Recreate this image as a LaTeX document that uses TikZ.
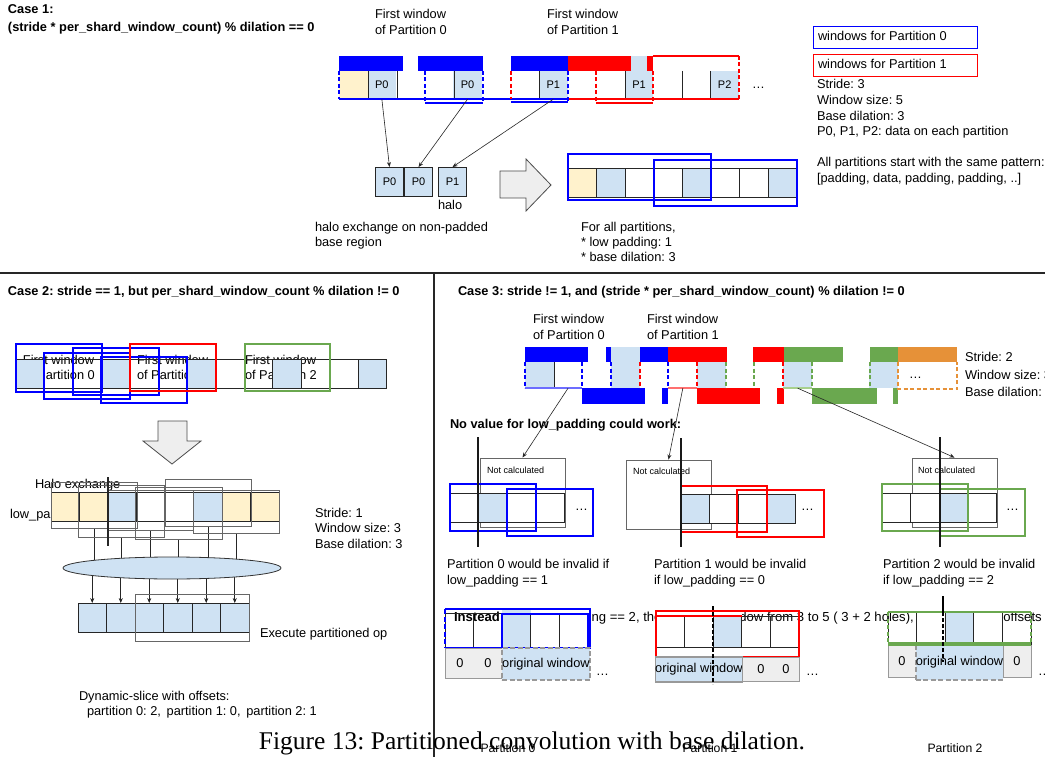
\documentclass[tikz,border=0pt]{standalone}
\usepackage{fontspec}
\setmainfont{Liberation Sans}
\newfontfamily\capfont{Liberation Serif}
\usetikzlibrary{arrows.meta,shapes.geometric}
\definecolor{pblue}{HTML}{0000FF}
\definecolor{lblue}{HTML}{6D6DFF}
\definecolor{pred}{HTML}{FF0000}
\definecolor{lred}{HTML}{FF7070}
\definecolor{pgreen}{HTML}{6AA84F}
\definecolor{lgreen}{HTML}{A8D08D}
\definecolor{porange}{HTML}{E69138}
\definecolor{lb}{HTML}{CFE2F3}
\definecolor{yel}{HTML}{FFF2CC}
\definecolor{lgray}{HTML}{EEEEEE}
\definecolor{mgray}{HTML}{999999}
\newcommand\myfs{\fontsize{12.8}{15}\selectfont}
\newcommand\mysm{\fontsize{9}{11}\selectfont}
\pgfdeclarelayer{bgfill}
\pgfdeclarelayer{back}
\pgfsetlayers{bgfill,back,main}
\frenchspacing
\begin{document}
\begin{tikzpicture}[x=1pt,y=-1pt,
  tx/.style={inner sep=0pt, outer sep=0pt, anchor=west, font=\myfs, text height=9.2pt, text depth=2.6pt},
  bx/.style={tx, font=\myfs\bfseries},
  sm/.style={inner sep=0pt, outer sep=0pt, anchor=west, font=\mysm, text height=6.5pt, text depth=1.8pt},
  ctx/.style={inner sep=0pt, outer sep=0pt, font=\myfs},
  cb/.style={draw=black!85, line width=0.9pt, minimum width=28.57pt, minimum height=29pt, inner sep=0pt, font=\fontsize{11}{13}\selectfont},
  cf/.style={draw=none, minimum width=28.57pt, minimum height=28pt, inner sep=0pt, font=\fontsize{11}{13}\selectfont},
  vd/.style={draw=black!85, line width=0.9pt},
  arr/.style={-{Stealth[length=5pt,width=4pt]}, line width=0.6pt, black!85},
  garrow/.style={draw=black!70, fill=lgray, line width=0.8pt},
  win/.style={line width=1.1pt},
  gwin/.style={draw=black!60, line width=0.9pt, inner sep=0pt},
  bdash/.style={line width=1.3pt, dash pattern=on 4pt off 2.5pt},
  gcell/.style={draw=mgray, fill=lgray, line width=0.9pt, inner sep=0pt, font=\myfs},
  owin/.style={fill=lb, draw=mgray, line width=1.5pt, dash pattern=on 5pt off 2.5pt, inner sep=0pt, font=\myfs},
]
\useasboundingbox (0,0) rectangle (1045,757);
\begin{pgfonlayer}{bgfill}
\fill[white] (0,0) rectangle (1045,757);
\end{pgfonlayer}

%% ================= CASE 1 =================
\node[bx] (c1a) at (8,10) {Case 1:};
\node[bx] (c1b) at (8,28) {(stride * per\_shard\_window\_count) \% dilation == 0};
\node[tx] (fw0a) at (375,15) {First window};
\node[tx] (fw0b) at (375,31) {of Partition 0};
\node[tx] (fw1a) at (547,15) {First window};
\node[tx] (fw1b) at (547,31) {of Partition 1};

\foreach \i/\f/\t in {0/yel/{},1/lb/P0,2/white/{},3/white/{},4/lb/P0,5/white/{},6/white/{},7/lb/P1,8/white/{},9/white/{},10/lb/P1,11/white/{},12/white/{},13/lb/P2}
  \node[cf,fill=\f] (a\i) at ({339+28.57*(\i+0.5)},85) {\t};
\foreach \x in {368,397,454,539,625,682,710} \draw[vd] (\x,71) -- (\x,99);
\fill[pblue] (339,56) rectangle (403,71);
\fill[pblue] (418,56) rectangle (483,71);
\fill[pblue] (511,56) rectangle (568,71);
\fill[pred] (568,56) rectangle (631,71);
\fill[lb] (631,56) rectangle (647,71);
\fill[pred] (647,56) rectangle (653,71);
\draw[pred, line width=1.1pt] (653,56) -- (739,56);
\draw[pblue, line width=1.6pt] (339,99) -- (568,99);
\draw[pred, line width=1.6pt] (568,99) -- (739,99);
\draw[pblue, line width=1.6pt] (425,103) -- (483,103);
\draw[pblue, line width=1.6pt] (511,102) -- (568,102);
\draw[pred, line width=1.6pt] (596,103) -- (653,103);
\foreach \x/\a/\b in {339/71/99,425/71/103,483/71/103,568/71/103}
  \draw[pblue, bdash] (\x,\a) -- (\x,\b);
\foreach \x/\a/\b in {511/71/99,596/71/103,653/71/103,739/56/99}
  \draw[pred, bdash] (\x,\a) -- (\x,\b);
\node[tx] (adots) at (752,85) {…};

% halo boxes
\node[cb,fill=lb] (h0) at (389.5,182) {P0};
\node[cb,fill=lb] (h1) at (418.5,182) {P0};
\node[cb,fill=lb] (h2) at (452.5,182) {P1};
\node[tx] (halo) at (438,206) {halo};
\draw[arr] (a1.south) -- (h0.north);
\draw[arr] (a4.south) -- (h1.north);
\draw[arr] (a7.south) -- (h2.north);

% big right arrow
\draw[garrow] (500,171) -- (526,171) -- (526,159) -- (551,185) -- (526,211) -- (526,198) -- (500,198) -- cycle;

% result row
\foreach \i/\f in {0/yel,1/lb,2/white,3/white,4/lb,5/white,6/white,7/lb}
  \node[cb,fill=\f] (r\i) at ({568+28.57*(\i+0.5)},182.5) {};
\draw[pblue, win] (568,154) rectangle (711,200);
\draw[pblue, win] (654,160) rectangle (797,206);

\node[tx] (hx1) at (315,228) {halo exchange on non-padded};
\node[tx] (hx2) at (315,243) {base region};
\node[tx] (fa1) at (581,228) {For all partitions,};
\node[tx] (fa2) at (581,243) {* low padding: 1};
\node[tx] (fa3) at (581,258) {* base dilation: 3};

% legend
\node[draw=pblue, line width=1.1pt, minimum width=164pt, minimum height=22pt, inner sep=0pt, anchor=north west] (leg0) at (813,26) {};
\node[tx] (leg0t) at (818,37) {windows for Partition 0};
\node[draw=pred, line width=1.1pt, minimum width=164pt, minimum height=22pt, inner sep=0pt, anchor=north west] (leg1) at (813,54) {};
\node[tx] (leg1t) at (818,65) {windows for Partition 1};
\node[tx] (l1) at (817,85) {Stride: 3};
\node[tx] (l2) at (817,101) {Window size: 5};
\node[tx] (l3) at (817,117) {Base dilation: 3};
\node[tx] (l4) at (817,132) {P0, P1, P2: data on each partition};
\node[tx] (l5) at (817,163) {All partitions start with the same pattern:};
\node[tx] (l6) at (817,179) {[padding, data, padding, padding, ..]};

%% dividers
\draw[line width=1.5pt, black!85] (0,273) -- (1045,273);
\draw[line width=1.5pt, black!85] (434,273) -- (434,757);

%% ================= CASE 2 =================
\node[bx] (c2) at (8,292) {Case 2: stride == 1, but per\_shard\_window\_count \% dilation != 0};
\node[tx] (c2f0a) at (23,361) {First window};
\node[tx] (c2f0b) at (23,376) {of Partition 0};
\node[tx] (c2f1a) at (137,361) {First window};
\node[tx] (c2f1b) at (137,376) {of Partition 1};
\node[tx] (c2f2a) at (245,361) {First window};
\node[tx] (c2f2b) at (245,376) {of Partition 2};
\foreach \i/\f in {0/lb,1/none,2/none,3/lb,4/none,5/none,6/lb,7/none,8/none,9/lb,10/none,11/none,12/lb}
  \node[cb,fill=\f] (k\i) at ({16+28.5*(\i+0.5)},373.5) {};
\draw[pblue, win] (16,344) rectangle (102,392);
\draw[pblue, win] (44,353) rectangle (130,399);
\draw[pblue, win] (73,348) rectangle (159,395);
\draw[pblue, win] (101,357) rectangle (187,403);
\draw[pred, win] (130,344) rectangle (216,391);
\draw[pgreen, win] (245,344) rectangle (330,391);

% down arrow
\draw[garrow] (158,421) -- (187,421) -- (187,441) -- (201,441) -- (172,464) -- (143,441) -- (158,441) -- cycle;

\node[tx] (halox) at (35,485) {Halo exchange};
\node[tx] (lowpa) at (10,515) {low\_padding};
\foreach \i/\f in {0/yel,1/yel,2/lb,3/white,4/white,5/lb,6/yel,7/yel}
  \node[cb,fill=\f] (m\i) at ({51+28.5*(\i+0.5)},507) {};
\foreach \k/\cx/\cy/\w/\h in {0/94/505/86/46,1/121/511/86/52,2/150.5/510/85/40,3/178.5/513/87/52,4/208/502.5/86/47,5/236/511.5/86/43}
  \node[gwin, minimum width=\w pt, minimum height=\h pt] (w\k) at (\cx,\cy) {};
\draw[line width=1.8pt, black!85] (108,477) -- (108,546);

\node[ellipse, draw=black!80, fill=lb, line width=0.8pt, minimum width=218pt, minimum height=22pt, inner sep=0pt] (ell) at (172,568) {};
\foreach \k in {0,...,5}
  \node[cb,fill=lb] (b\k) at ({78+28.5*(\k+0.5)},618) {};
\begin{pgfonlayer}{back}
\foreach \k in {0,...,5} {
  \draw[line width=0.6pt, black!85] (w\k.south) -- (w\k.south |- ell.center);
  \draw[arr] (b\k.north |- ell.center) -- (b\k.north);
}
\end{pgfonlayer}
\draw[gwin] (135,594) rectangle (249,641);

\node[tx] (s2a) at (315,514) {Stride: 1};
\node[tx] (s2b) at (315,529) {Window size: 3};
\node[tx] (s2c) at (315,545) {Base dilation: 3};
\node[tx] (exe) at (260,634) {Execute partitioned op};
\node[tx] (dyn1) at (79,697) {Dynamic-slice with offsets:};
\node[tx] (dyn2) at (87,712) {partition 0: 2,\, partition 1: 0,\, partition 2: 1};

%% ================= CASE 3 =================
\node[bx] (c3) at (458,292) {Case 3: stride != 1, and (stride * per\_shard\_window\_count) \% dilation != 0};
\node[tx] (c3f0a) at (533,320) {First window};
\node[tx] (c3f0b) at (533,336) {of Partition 0};
\node[tx] (c3f1a) at (647,320) {First window};
\node[tx] (c3f1b) at (647,336) {of Partition 1};

\foreach \i/\f in {0/lb,1/white,2/white,3/lb,4/white,5/white,6/lb,7/white,8/white,9/lb,10/white,11/white,12/lb}
  \node[cf,fill=\f,minimum width=28.7pt,minimum height=26pt] (d\i) at ({525+28.7*(\i+0.5)},375) {};
\draw[vd] (554,362) -- (554,388);
% top bars
\fill[pblue] (525,347) rectangle (588,362);
\fill[pblue] (606,347) rectangle (668,362);
\fill[lb] (611,347) rectangle (640,362);
\fill[pred] (668,347) rectangle (727,362);
\fill[pred] (753,347) rectangle (784,362);
\fill[pgreen] (784,347) rectangle (843,362);
\fill[pgreen] (870,347) rectangle (898,362);
\fill[porange] (898,347) rectangle (957,362);
% bottom bars
\fill[pblue] (582,388) rectangle (645,404);
\fill[pblue] (662,388) rectangle (668,404);
\fill[pred] (697,388) rectangle (760,404);
\fill[pred] (777,388) rectangle (784,404);
\fill[pgreen] (812,388) rectangle (877,404);
\fill[pgreen] (893,388) rectangle (898,404);
\draw[lblue, line width=2pt] (525,388) -- (582,388);
\draw[lred, line width=2pt] (668,388) -- (697,388);
\draw[lgreen, line width=2pt] (783,388) -- (812,388);
\foreach \x in {525,582,611,668} \draw[pblue, bdash] (\x,362) -- (\x,388);
\foreach \x in {640,697,783} \draw[pred, bdash] (\x,362) -- (\x,388);
\foreach \x in {726,754,812,870} \draw[pgreen, bdash] (\x,362) -- (\x,388);
\draw[porange, bdash] (898,362) -- (898,389) -- (957,389) -- (957,362);
\node[tx] (ddots) at (909,375) {…};

\node[tx] (s3a) at (965,358) {Stride: 2};
\node[tx] (s3b) at (965,376) {Window size: 3};
\node[tx] (s3c) at (965,393) {Base dilation: 3};

\node[bx] (noval) at (450,425) {No value for low\_padding could work:};

% not calculated boxes
\node[gwin, minimum width=85pt, minimum height=69pt] (nc0) at (522.5,492.5) {};
\node[gwin, minimum width=85pt, minimum height=69pt] (nc1) at (668.5,494.5) {};
\node[gwin, minimum width=85pt, minimum height=69pt] (nc2) at (954.5,492.5) {};
\node[sm] (nct0) at (487,471) {Not calculated};
\node[sm] (nct1) at (633,472) {Not calculated};
\node[sm] (nct2) at (918,471) {Not calculated};
\draw[arr] (d1.south) -- (nc0.north);
\draw[arr] (d5.south) -- (nc1.north);
\draw[arr] (d9.south) -- (nc2.north);

% partition 0 sub
\foreach \i/\f in {0/white,1/lb,2/white,3/white}
  \node[cb,fill=\f] (e\i) at ({450+28.7*(\i+0.5)},507.5) {};
\draw[pblue, win] (450,484) rectangle (536,531);
\draw[pblue, win] (507,489) rectangle (593,536);
\node[tx] (edots) at (575,507) {…};
\draw[line width=1.3pt, black!90] (478,437) -- (478,547);
% partition 1 sub
\foreach \i/\f in {0/lb,1/white,2/white,3/lb}
  \node[cb,fill=\f] (f\i) at ({681+28.5*(\i+0.5)},508.5) {};
\draw[pred, win] (681,486) rectangle (767,532);
\draw[pred, win] (737,490) rectangle (824,537);
\node[tx] (fdots) at (801,507) {…};
\draw[line width=1.3pt, black!90] (681,438) -- (681,547);
% partition 2 sub
\foreach \i/\f in {0/white,1/white,2/lb,3/white}
  \node[cb,fill=\f] (g\i) at ({882+28.75*(\i+0.5)},507.5) {};
\draw[pgreen, win] (882,484) rectangle (968,531);
\draw[pgreen, win] (940,489) rectangle (1025,536);
\node[tx] (gdots) at (1006,507) {…};
\draw[line width=1.3pt, black!90] (940,437) -- (940,547);

\node[tx] (iv0a) at (447,565) {Partition 0 would be invalid if};
\node[tx] (iv0b) at (447,581) {low\_padding == 1};
\node[tx] (iv1a) at (654,565) {Partition 1 would be invalid};
\node[tx] (iv1b) at (654,581) {if low\_padding == 0};
\node[tx] (iv2a) at (883,565) {Partition 2 would be invalid};
\node[tx] (iv2b) at (883,581) {if low\_padding == 2};

% Instead line (partly hidden)
\node[tx, font=\fontsize{13.1}{15}\selectfont] (inst) at (454,618) {\textbf{Instead:} use low\_padding == 2, then pad the window from 3 to 5 ( 3 + 2 holes), then slice with offsets};

% bottom partition 0
\fill[lb] (502,609) rectangle (531,614);
\fill[white] (531,609) rectangle (588,614);
\foreach \i/\f in {0/none,1/none,2/lb,3/white,4/white}
  \node[cb,fill=\f,minimum width=28.6pt,minimum height=34pt] (p\i) at ({445+28.6*(\i+0.5)},630) {};
\draw[pblue, line width=1.8pt] (445,609) -- (590,609) -- (590,648) -- (445,648);
\draw[pblue, line width=1.8pt, dash pattern=on 5pt off 2.5pt] (445,609) -- (445,648);
\draw[pblue, line width=1.5pt] (502,614) rectangle (588,648);
\node[gcell, minimum width=57pt, minimum height=30pt] (pz) at (473.5,663) {};
\node[ctx] (pz1) at (460,663) {0};
\node[ctx] (pz2) at (488,663) {0};
\node[owin, minimum width=88pt, minimum height=32pt] (pw) at (546,664) {original window};
\node[tx] (pdots) at (596,672) {…};

% bottom partition 1
\fill[white] (656,609) rectangle (742,616);
\foreach \i/\f in {0/white,1/white,2/lb,3/none,4/none}
  \node[cb,fill=\f,minimum width=28.6pt,minimum height=31pt] (q\i) at ({656+28.6*(\i+0.5)},631.5) {};
\draw[pred, line width=1.8pt] (656,611) rectangle (799,657);
\draw[pred, line width=1.3pt] (656,616) -- (742,616);
\node[owin, dash pattern=, line width=1.2pt, minimum width=86pt, minimum height=25pt] (qw) at (699,669.5) {original window};
\node[gcell, minimum width=57pt, minimum height=24pt] (qz) at (770.5,669) {};
\node[ctx] (qz1) at (761,669) {0};
\node[ctx] (qz2) at (786,669) {0};
\draw[black, line width=1.5pt, dash pattern=on 4pt off 2pt] (713,606) -- (713,684);
\node[tx] (qdots) at (806,672) {…};

% bottom partition 2
\fill[white] (916,609) rectangle (1003,612);
\foreach \i/\f in {0/none,1/white,2/lb,3/white,4/none}
  \node[cb,fill=\f,minimum width=28.6pt,minimum height=32pt] (s\i) at ({888+28.6*(\i+0.5)},628) {};
\node[gcell, minimum width=28pt, minimum height=32pt] (sz0) at (902,661) {0};
\node[owin, minimum width=87pt, minimum height=35pt] (sw) at (959.5,662.5) {original window};
\node[gcell, minimum width=28pt, minimum height=32pt] (sz1) at (1017,661) {0};
\draw[pgreen, line width=2.5pt] (888,612) -- (1031,612);
\draw[pgreen, line width=3.5pt] (888,644) -- (1031,644);
\draw[pgreen, bdash] (888,612) -- (888,644);
\draw[pgreen, bdash] (1031,612) -- (1031,644);
\draw[black, line width=1.3pt] (943,596) -- (943,612);
\draw[black, line width=1.5pt, dash pattern=on 4pt off 2pt] (943,612) -- (943,662);
\node[tx] (sdots) at (1038,672) {…};

%% caption and labels
\node[font=\capfont\fontsize{25.5}{28}\selectfont, anchor=base, inner sep=0pt] (cap) at (532,749) {Figure 13: Partitioned convolution with base dilation.};
\node[font=\fontsize{12.2}{14}\selectfont, inner sep=0pt] (pl0) at (508,748) {Partition 0};
\node[font=\fontsize{12.2}{14}\selectfont, inner sep=0pt] (pl1) at (710,748) {Partition 1};
\node[font=\fontsize{12.2}{14}\selectfont, inner sep=0pt] (pl2) at (955,748) {Partition 2};
\end{tikzpicture}
\end{document}
